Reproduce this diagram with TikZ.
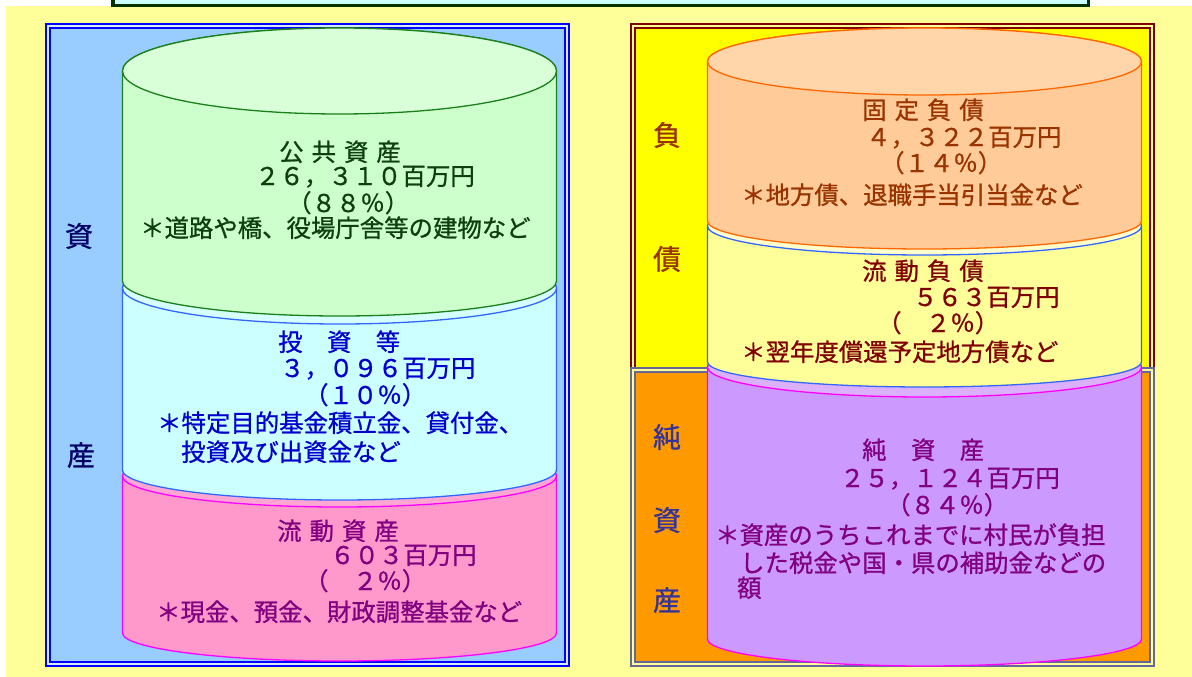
\documentclass[tikz,border=0pt]{standalone}
\usepackage{fontspec}
\newfontfamily\jp[FakeBold=0.9]{Noto Sans CJK JP}
\definecolor{bgyellow}{HTML}{FFFF99}
\definecolor{topfill}{HTML}{CCFFFF}
\definecolor{topline}{HTML}{003300}
\definecolor{leftfill}{HTML}{99CCFF}
\definecolor{debtfill}{HTML}{FFFF00}
\definecolor{debtline}{HTML}{800000}
\definecolor{netfill}{HTML}{FF9900}
\definecolor{netline}{HTML}{666699}
% drum colours
\definecolor{pubbody}{HTML}{CCFFCC}\definecolor{publid}{HTML}{D9FFD9}\definecolor{publine}{HTML}{1A801A}\definecolor{pubtext}{HTML}{0F3F0F}
\definecolor{invbody}{HTML}{CCFFFF}\definecolor{invlid}{HTML}{D6FFFF}\definecolor{invline}{HTML}{3366FF}\definecolor{invtext}{HTML}{0000CC}
\definecolor{curbody}{HTML}{FF99CC}\definecolor{curlid}{HTML}{FFA6D2}\definecolor{curline}{HTML}{FF00FF}\definecolor{curtext}{HTML}{800080}
\definecolor{fixbody}{HTML}{FFCC99}\definecolor{fixlid}{HTML}{FFD6AA}\definecolor{fixline}{HTML}{FF6600}\definecolor{fixtext}{HTML}{993300}
\definecolor{flowbody}{HTML}{FFFF99}\definecolor{flowlid}{HTML}{FFFFCC}\definecolor{flowline}{HTML}{3366FF}\definecolor{flowtext}{HTML}{800000}
\definecolor{netbody}{HTML}{CC99FF}\definecolor{netlid}{HTML}{DAB0FF}\definecolor{netdline}{HTML}{FF00FF}\definecolor{nettext}{HTML}{800080}
\definecolor{sidenavy}{HTML}{000066}
\definecolor{sidepurple}{HTML}{333399}

% one slice of a drum: cx, top y, top ry, bottom y, bottom ry, body, lid, line
\newcommand\drumpart[8]{%
  \filldraw[fill=#6,draw=#8,line width=1.3pt]
    (#1-217,-#2) -- (#1-217,-#4)
    arc[start angle=180,end angle=360,x radius=217,y radius=#5]
    -- (#1+217,-#2)
    arc[start angle=0,end angle=180,x radius=217,y radius=#3] -- cycle;
  \filldraw[fill=#7,draw=#8,line width=1.3pt] (#1,-#2) ellipse[x radius=217,y radius=#3];
}
\newcommand\gap{\hspace{8pt}}

\begin{document}
\begin{tikzpicture}[x=1pt,y=1pt,
  txt/.style={anchor=west,inner sep=0pt,text height=21pt,text depth=3pt,
    font=\jp\fontsize{24.4}{26}\selectfont},
  side/.style={inner sep=0pt,font=\jp\fontsize{28}{30}\selectfont},
  panel/.style={line width=2pt,double distance=2pt}]
  \useasboundingbox (0,0) rectangle (1192,-677);
  \clip (0,0) rectangle (1192,-677);
  \fill[white] (0,0) rectangle (1192,-677);
  \fill[bgyellow] (6,-6) rectangle (1192,-677);
  \filldraw[fill=topfill,draw=topline,line width=3.5pt] (113,20) rectangle (1088.5,-5.5);

  % panels
  \filldraw[panel,fill=leftfill,draw=blue,double=white!60!leftfill] (48,-26) rectangle (567,-664);
  \filldraw[panel,fill=debtfill,draw=debtline,double=bgyellow] (633,-26.5) rectangle (1152,-372);
  \filldraw[panel,fill=netfill,draw=netline,double=bgyellow] (633,-370) rectangle (1152,-664);

  % assets drum
  \drumpart{339.5}{476}{31}{633}{28}{curbody}{curlid}{curline}
  \drumpart{339.5}{288}{36}{470}{30}{invbody}{invlid}{invline}
  \drumpart{339.5}{71}{43}{281}{35}{pubbody}{publid}{publine}

  % liabilities drum
  \drumpart{924.5}{367}{30}{639}{27}{netbody}{netlid}{netdline}
  \drumpart{924.5}{226}{29}{362}{25}{flowbody}{flowlid}{flowline}
  \drumpart{924.5}{61.5}{33.5}{221}{28}{fixbody}{fixlid}{fixline}

  % side labels
  \node[side,text=sidenavy] (sa1) at (79,-236) {資};
  \node[side,text=sidenavy] (sa2) at (81,-455) {産};
  \node[side,text=fixtext] (sd1) at (667,-135) {負};
  \node[side,text=fixtext] (sd2) at (667,-259) {債};
  \node[side,text=sidepurple] (sn1) at (667,-437) {純};
  \node[side,text=sidepurple] (sn2) at (667,-520) {資};
  \node[side,text=sidepurple] (sn3) at (667,-600) {産};

  % public assets
  \node[txt,text=pubtext] (g1) at (279,-152) {公\gap 共\gap 資\gap 産};
  \node[txt,text=pubtext] (g2) at (255,-176) {２６，３１０百万円};
  \node[txt,text=pubtext] (g3) at (287,-203) {（８８％）};
  \node[txt,text=pubtext] (g4) at (140,-228) {＊道路や橋、役場庁舎等の建物など};

  % investments
  \node[txt,text=invtext] (c1) at (278,-342) {投　資　等};
  \node[txt,text=invtext] (c2) at (280,-368) {３，０９６百万円};
  \node[txt,text=invtext] (c3) at (304,-395) {（１０％）};
  \node[txt,text=invtext] (c4) at (157,-423) {＊特定目的基金積立金、貸付金、};
  \node[txt,text=invtext] (c5) at (181,-452) {投資及び出資金など};

  % current assets
  \node[txt,text=curtext] (p1) at (277,-531) {流\gap 動\gap 資\gap 産};
  \node[txt,text=curtext] (p2) at (330,-555) {６０３百万円};
  \node[txt,text=curtext] (p3) at (304,-581) {（　２％）};
  \node[txt,text=curtext] (p4) at (156,-612) {＊現金、預金、財政調整基金など};

  % fixed liabilities
  \node[txt,text=fixtext] (o1) at (862,-110) {固\gap 定\gap 負\gap 債};
  \node[txt,text=fixtext] (o2) at (866,-137) {４，３２２百万円};
  \node[txt,text=fixtext] (o3) at (880,-163) {（１４％）};
  \node[txt,text=fixtext] (o4) at (741,-195) {＊地方債、退職手当引当金など};

  % current liabilities
  \node[txt,text=flowtext] (y1) at (862,-271) {流\gap 動\gap 負\gap 債};
  \node[txt,text=flowtext] (y2) at (913,-297) {５６３百万円};
  \node[txt,text=flowtext] (y3) at (877,-323) {（　２％）};
  \node[txt,text=flowtext] (y4) at (741,-352) {＊翌年度償還予定地方債など};

  % net assets
  \node[txt,text=nettext] (v1) at (862,-450) {純　資　産};
  \node[txt,text=nettext] (v2) at (840,-478) {２５，１２４百万円};
  \node[txt,text=nettext] (v3) at (886,-505) {（８４％）};
  \node[txt,text=nettext] (v4) at (715,-535) {＊資産のうちこれまでに村民が負担};
  \node[txt,text=nettext] (v5) at (740,-563) {した税金や国・県の補助金などの};
  \node[txt,text=nettext] (v6) at (737,-588) {額};
\end{tikzpicture}
\end{document}
